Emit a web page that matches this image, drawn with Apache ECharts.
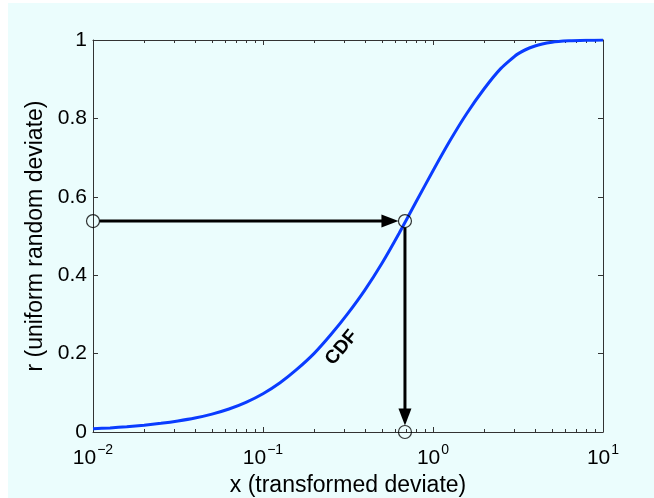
<!DOCTYPE html>
<html>
<head>
<meta charset="utf-8">
<script src="https://cdn.jsdelivr.net/npm/echarts@6/dist/echarts.min.js"></script>
<style>
  html, body { margin: 0; padding: 0; background: #fff; }
  #chart { width: 654px; height: 498px; }
</style>
</head>
<body>
<div id="chart"></div>
<script>
// CDF curve (x on a log scale)
var cdfX = [0.01, 0.0126, 0.0158, 0.02, 0.0251, 0.0316, 0.0398, 0.0501, 0.0631, 0.0794,
  0.1, 0.126, 0.158, 0.2, 0.251, 0.316, 0.398, 0.501, 0.631, 0.794,
  1.0, 1.26, 1.58, 2.0, 2.51, 3.16, 3.98, 5.01, 6.31, 7.94, 10];
var cdfR = [0.008, 0.0105, 0.0135, 0.0173, 0.0221, 0.0281, 0.0356, 0.0456, 0.0586, 0.0756,
  0.0976, 0.1256, 0.1596, 0.2006, 0.2486, 0.3026, 0.3626, 0.4306, 0.5066, 0.5866,
  0.6666, 0.7436, 0.8126, 0.8756, 0.9276, 0.9646, 0.9846, 0.9941, 0.9978, 0.9993, 1.0];

// the picked deviate: r0 on the y axis maps to x0
var pickR = 0.538;
var pickX = 0.684;
var circlePts = [[0.01, pickR], [pickX, pickR], [pickX, 0]];
var arrows = [[0.01, pickR, pickX, pickR], [pickX, pickR, pickX, 0]];

var majorX = [0.01, 0.1, 1, 10];
var minorX = [0.02, 0.03, 0.04, 0.05, 0.06, 0.07, 0.08, 0.09,
  0.2, 0.3, 0.4, 0.5, 0.6, 0.7, 0.8, 0.9,
  2, 3, 4, 5, 6, 7, 8, 9];
var labelPos = [0.29, 0.215];

var curve = [];
for (var i = 0; i < cdfX.length; i++) {
  curve.push([cdfX[i], cdfR[i]]);
}

var font = 'Liberation Sans, Arial, Helvetica, sans-serif';
var axisCol = '#333';

function logAxis(pos, showLine, ticks, len, withLabels) {
  var ax = {
    type: 'log',
    logBase: 10,
    min: 0.01,
    max: 10,
    position: pos,
    axisLine: { show: showLine, onZero: false, lineStyle: { color: axisCol, width: 1 } },
    axisTick: { show: true, inside: true, length: len, customValues: ticks, lineStyle: { color: axisCol } },
    axisLabel: { show: false },
    splitLine: { show: false },
    minorTick: { show: false }
  };
  if (withLabels) {
    ax.axisLabel = {
      show: true,
      customValues: majorX,
      margin: 11,
      color: '#000',
      fontFamily: font,
      formatter: function (v) {
        var e = Math.round(Math.log10(v));
        var s = e < 0 ? '\u2212' + (-e) : '' + e;
        return '{b|10}{s|' + s + '}';
      },
      rich: {
        b: { fontSize: 21, fontFamily: font, color: '#000', lineHeight: 26, verticalAlign: 'bottom' },
        s: { fontSize: 14, fontFamily: font, color: '#000', lineHeight: 26, verticalAlign: 'top', padding: [0, 0, 0, 1] }
      }
    };
    ax.name = 'x (transformed deviate)';
    ax.nameLocation = 'middle';
    ax.nameGap = 36;
    ax.nameTextStyle = { fontSize: 23, fontFamily: font, color: '#000' };
  }
  return ax;
}

function linAxis(pos, withLabels) {
  var ax = {
    type: 'value',
    min: 0,
    max: 1,
    interval: 0.2,
    position: pos,
    axisLine: { show: true, onZero: false, lineStyle: { color: axisCol, width: 1 } },
    axisTick: { show: true, inside: true, length: 5, lineStyle: { color: axisCol } },
    axisLabel: { show: false },
    splitLine: { show: false }
  };
  if (withLabels) {
    ax.axisLabel = { show: true, margin: 6, fontSize: 21, fontFamily: font, color: '#000' };
    ax.name = 'r (uniform random deviate)';
    ax.nameLocation = 'middle';
    ax.nameGap = 43;
    ax.nameTextStyle = { fontSize: 23, fontFamily: font, color: '#000' };
  }
  return ax;
}

function renderArrow(params, api) {
  var p0 = api.coord([api.value(0), api.value(1)]);
  var p1 = api.coord([api.value(2), api.value(3)]);
  var dx = p1[0] - p0[0], dy = p1[1] - p0[1];
  var L = Math.sqrt(dx * dx + dy * dy);
  var ux = dx / L, uy = dy / L;
  var gap = 6.5, headLen = 17, headW = 6.5;
  var sx = p0[0] + ux * gap, sy = p0[1] + uy * gap;
  var tx = p1[0] - ux * gap, ty = p1[1] - uy * gap;
  var bx = tx - ux * headLen, by = ty - uy * headLen;
  return {
    type: 'group',
    children: [
      { type: 'line', shape: { x1: sx, y1: sy, x2: bx + ux * 2, y2: by + uy * 2 }, style: { stroke: '#000', lineWidth: 3 } },
      { type: 'polygon', shape: { points: [[tx, ty], [bx - uy * headW, by + ux * headW], [bx + uy * headW, by - ux * headW]] },
        style: { fill: '#000' } }
    ]
  };
}

function renderLabel(params, api) {
  var p = api.coord([api.value(0), api.value(1)]);
  return {
    type: 'text',
    x: p[0], y: p[1],
    rotation: 50 * Math.PI / 180,
    style: { text: 'CDF', fontSize: 19, fontWeight: 'bold', fontFamily: font, fill: '#000', align: 'center', verticalAlign: 'middle' }
  };
}

var chart = echarts.init(document.getElementById('chart'));
chart.setOption({
  backgroundColor: '#fff',
  animation: false,
  graphic: [{
    type: 'rect', z: -10, silent: true,
    shape: { x: 8, y: 3, width: 646, height: 495 },
    style: { fill: '#ebfdfd' }
  }],
  grid: { left: 93, right: 51, top: 40, bottom: 66, containLabel: false, outerBoundsMode: 'none' },
  xAxis: [
    logAxis('bottom', true, majorX, 5, true),
    logAxis('bottom', false, minorX, 3, false),
    logAxis('top', true, majorX, 5, false),
    logAxis('top', false, minorX, 3, false)
  ],
  yAxis: [linAxis('left', true), linAxis('right', false)],
  series: [
    {
      type: 'line',
      data: curve,
      showSymbol: false,
      smooth: 0.2,
      lineStyle: { color: '#0a3cff', width: 3 },
      z: 3
    },
    {
      type: 'custom',
      data: arrows,
      encode: { x: [0, 2], y: [1, 3] },
      renderItem: renderArrow,
      clip: false,
      z: 4
    },
    {
      type: 'scatter',
      data: circlePts,
      symbol: 'circle',
      symbolSize: 13,
      itemStyle: { color: 'rgba(0,0,0,0)', borderColor: '#000', borderWidth: 1.2 },
      clip: false,
      z: 5
    },
    {
      type: 'custom',
      data: [labelPos],
      renderItem: renderLabel,
      z: 6
    }
  ]
});
</script>
</body>
</html>
